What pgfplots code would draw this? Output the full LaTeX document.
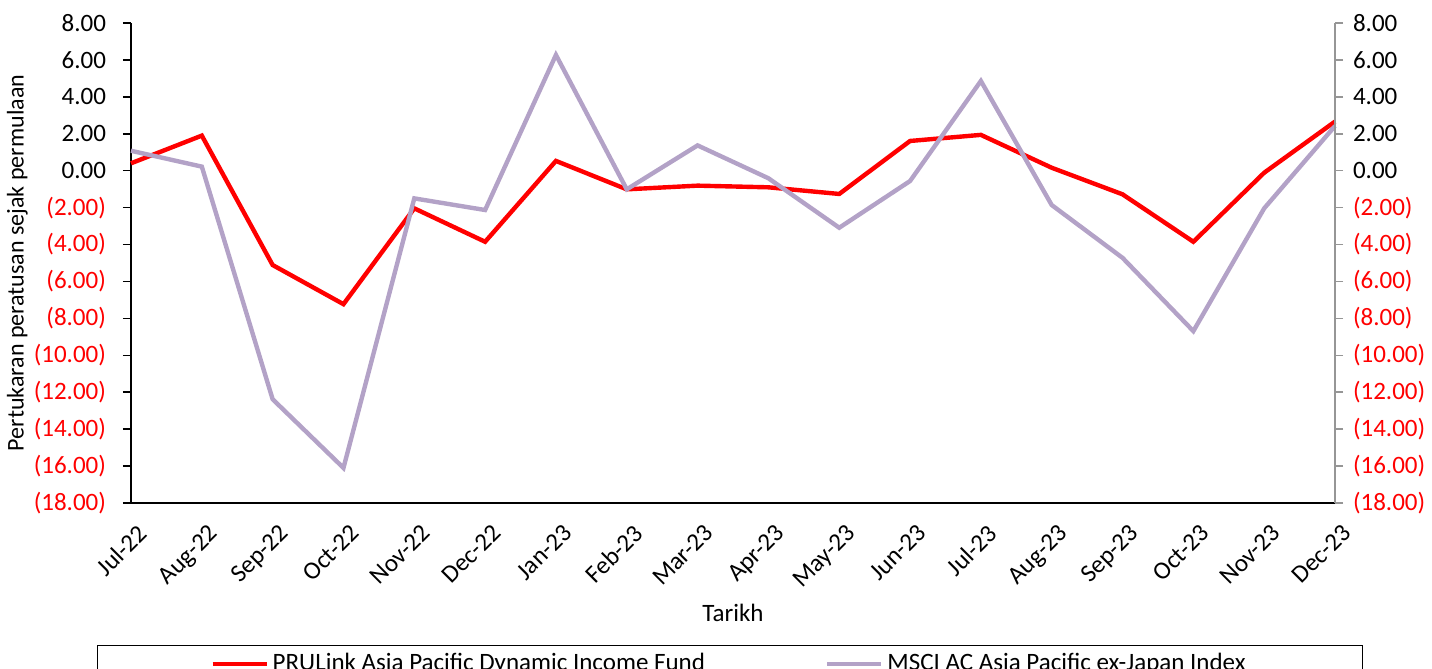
\documentclass[border=0pt]{standalone}
\usepackage{pgfplots}
\pgfplotsset{compat=1.18}
\usepackage{fontspec}
\setmainfont{Carlito}
\definecolor{fundred}{RGB}{255,0,0}
\definecolor{msci}{RGB}{179,162,199}
\definecolor{axgray}{RGB}{150,150,150}
\begin{document}
\begin{tikzpicture}[font=\fontsize{12.5}{15}\selectfont]
\path[use as bounding box] (-65.5pt,-83pt) rectangle (650.5pt,251.5pt);
\begin{axis}[
  at={(0,0)}, anchor=south west,
  scale only axis, width=602pt, height=240pt,
  xmin=0, xmax=17, ymin=-18, ymax=8,
  axis y line*=left, axis x line*=bottom,
  axis line style={black, line width=0.8pt},
  tick align=outside,
  major tick length=4pt,
  xtick={0,...,17},
  xticklabels={Jul-22,Aug-22,Sep-22,Oct-22,Nov-22,Dec-22,Jan-23,Feb-23,Mar-23,Apr-23,May-23,Jun-23,Jul-23,Aug-23,Sep-23,Oct-23,Nov-23,Dec-23},
  xtick style={draw=none},
  xticklabel style={rotate=45, anchor=north east, inner sep=1pt, yshift=-5pt, xshift=-1pt},
  ytick={-18,-16,...,8},
  yticklabels={\textcolor{red}{(18.00)},\textcolor{red}{(16.00)},\textcolor{red}{(14.00)},\textcolor{red}{(12.00)},\textcolor{red}{(10.00)},\textcolor{red}{(8.00)},\textcolor{red}{(6.00)},\textcolor{red}{(4.00)},\textcolor{red}{(2.00)},0.00,2.00,4.00,6.00,8.00},
  yticklabel style={xshift=-5pt},
  ytick style={black, line width=0.8pt},
  ylabel={Pertukaran peratusan sejak permulaan},
  ylabel style={at={(axis description cs:-0.0895,0.5)}, anchor=center, yshift=3pt, font=\fontsize{12}{14}\selectfont},
  xlabel={Tarikh},
  xlabel style={at={(axis description cs:0.5,0)}, yshift=-55pt, anchor=center},
  legend columns=2,
  legend style={at={(0.5,0)}, anchor=north, yshift=-71pt, xshift=-1.5pt, draw=black, line width=0.6pt,
    inner xsep=56.5pt, inner ysep=2pt,
    /tikz/every even column/.append style={column sep=58pt}},
  legend cell align=left,
  legend image code/.code={\draw[#1] (0pt,0pt) -- (27pt,0pt);},
  clip=false,
]
\addplot[fundred, line width=2.2pt] coordinates {
(0,0.40) (1,1.90) (2,-5.11) (3,-7.23) (4,-2.04) (5,-3.85) (6,0.53) (7,-1.01) (8,-0.81) (9,-0.90) (10,-1.26) (11,1.61) (12,1.94) (13,0.16) (14,-1.28) (15,-3.85) (16,-0.11) (17,2.66)};
\addlegendentry{PRULink Asia Pacific Dynamic Income Fund}
\addplot[msci, line width=2.2pt] coordinates {
(0,1.08) (1,0.22) (2,-12.38) (3,-16.10) (4,-1.50) (5,-2.13) (6,6.27) (7,-1.01) (8,1.37) (9,-0.41) (10,-3.09) (11,-0.56) (12,4.86) (13,-1.86) (14,-4.72) (15,-8.69) (16,-2.04) (17,2.42)};
\addlegendentry{MSCI AC Asia Pacific ex-Japan Index}
\end{axis}
\begin{axis}[
  at={(0,0)}, anchor=south west,
  scale only axis, width=602pt, height=240pt,
  xmin=0, xmax=17, ymin=-18, ymax=8,
  axis y line*=right, axis x line=none,
  axis line style={axgray, line width=0.8pt},
  tick align=outside,
  major tick length=4pt,
  ytick={-18,-16,...,8},
  yticklabels={\textcolor{red}{(18.00)},\textcolor{red}{(16.00)},\textcolor{red}{(14.00)},\textcolor{red}{(12.00)},\textcolor{red}{(10.00)},\textcolor{red}{(8.00)},\textcolor{red}{(6.00)},\textcolor{red}{(4.00)},\textcolor{red}{(2.00)},0.00,2.00,4.00,6.00,8.00},
  ytick style={axgray, line width=0.8pt},
  yticklabel style={anchor=west, xshift=1.5pt},
]
\addplot[draw=none] coordinates {(0,0)};
\end{axis}
\end{tikzpicture}
\end{document}
